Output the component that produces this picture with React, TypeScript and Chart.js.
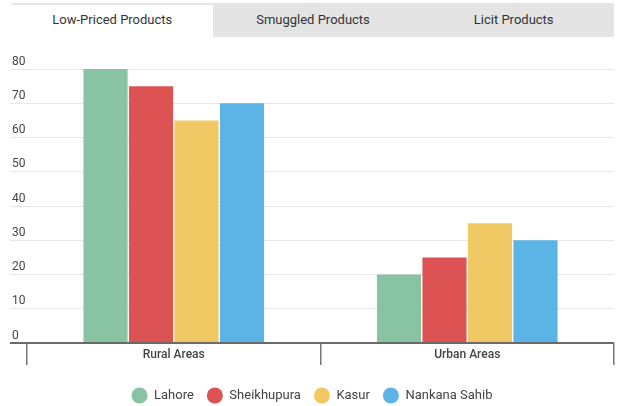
import React, { useEffect, useRef } from "react";
import { Chart, registerables } from "chart.js";

Chart.register(...registerables);

const tabs = ["Low-Priced Products", "Smuggled Products", "Licit Products"];
const categories = ["Rural Areas", "Urban Areas"];
const districts = ["Lahore", "Sheikhupura", "Kasur", "Nankana Sahib"];
const lahore = [80, 20];
const sheikhupura = [75, 25];
const kasur = [65, 35];
const nankanaSahib = [70, 30];
const seriesValues = [lahore, sheikhupura, kasur, nankanaSahib];
const seriesColors = ["#88c3a4", "#dd5353", "#f0c964", "#5cb3e5"];
const yMin = 0;
const yMax = 80;
const yStep = 10;

const FONT = "Roboto, 'Noto Sans', sans-serif";

// Value labels sit just above each horizontal gridline, flush left.
const yLabelPlugin = {
  id: "yLabelsAboveGrid",
  afterDraw(chart: any) {
    const scale = chart.scales.y;
    const ctx = chart.ctx;
    ctx.save();
    ctx.font = `12px ${FONT}`;
    ctx.fillStyle = "#444";
    ctx.textAlign = "left";
    ctx.textBaseline = "middle";
    scale.ticks.forEach((t: any) => {
      ctx.fillText(String(t.value), 12, scale.getPixelForValue(t.value) - 7.5);
    });
    ctx.restore();
  },
};

export default function App() {
  const canvasRef = useRef<HTMLCanvasElement | null>(null);

  useEffect(() => {
    if (!canvasRef.current) return;
    const chart = new Chart(canvasRef.current, {
      type: "bar",
      data: {
        labels: categories,
        datasets: districts.map((name, i) => ({
          label: name,
          data: seriesValues[i],
          backgroundColor: seriesColors[i],
          borderWidth: 0,
          categoryPercentage: 0.62,
          barPercentage: 0.97,
        })),
      },
      options: {
        responsive: false,
        animation: false,
        layout: { padding: { top: 69, left: 10, right: 10, bottom: 0 } },
        plugins: {
          tooltip: { enabled: false },
          legend: {
            position: "bottom",
            labels: {
              usePointStyle: true,
              pointStyle: "circle",
              boxHeight: 11.3,
              pointStyleWidth: 16,
              padding: 13,
              color: "#444",
              font: { family: FONT, size: 13 },
            },
          },
        },
        scales: {
          x: {
            afterFit: (s: any) => {
              s.height = 33;
            },
            border: { display: false },
            grid: {
              offset: true,
              drawOnChartArea: false,
              drawTicks: true,
              tickLength: 22,
              color: "#777",
              lineWidth: 1.5,
            },
            ticks: {
              padding: -17,
              color: "#444",
              font: { family: FONT, size: 12, weight: "500" },
            },
          },
          y: {
            min: yMin,
            max: yMax,
            afterFit: (s: any) => {
              s.width = 17;
            },
            border: { display: false },
            grid: {
              drawTicks: true,
              tickLength: 17,
              color: (c: any) => (c.tick && c.tick.value === 0 ? "#6a6a6a" : "#e6e6e6"),
              tickColor: (c: any) => (c.tick && c.tick.value === 0 ? "#6a6a6a" : "#e6e6e6"),
              lineWidth: (c: any) => (c.tick && c.tick.value === 0 ? 2 : 1),
            },
            ticks: { display: false, stepSize: yStep },
          },
        },
      },
      plugins: [yLabelPlugin],
    });
    return () => chart.destroy();
  }, []);

  return (
    <div
      style={{
        position: "absolute",
        left: 0,
        top: 0,
        width: 624,
        height: 406,
        overflow: "hidden",
        background: "#fff",
        fontFamily: FONT,
      }}
    >
      <canvas ref={canvasRef} width={624} height={412} style={{ display: "block" }} />
      <div
        style={{
          position: "absolute",
          left: 12,
          top: 3,
          width: 602,
          height: 34,
          background: "#e4e4e4",
          display: "flex",
        }}
      >
        {tabs.map((t, i) => (
          <div
            key={t}
            style={{
              flex: 1,
              marginTop: i === 0 ? 2 : 0,
              height: i === 0 ? 32 : 34,
              lineHeight: i === 0 ? "30px" : "34px",
              background: i === 0 ? "#fff" : "transparent",
              textAlign: "center",
              fontSize: 13,
              color: "#333",
            }}
          >
            {t}
          </div>
        ))}
      </div>
    </div>
  );
}
